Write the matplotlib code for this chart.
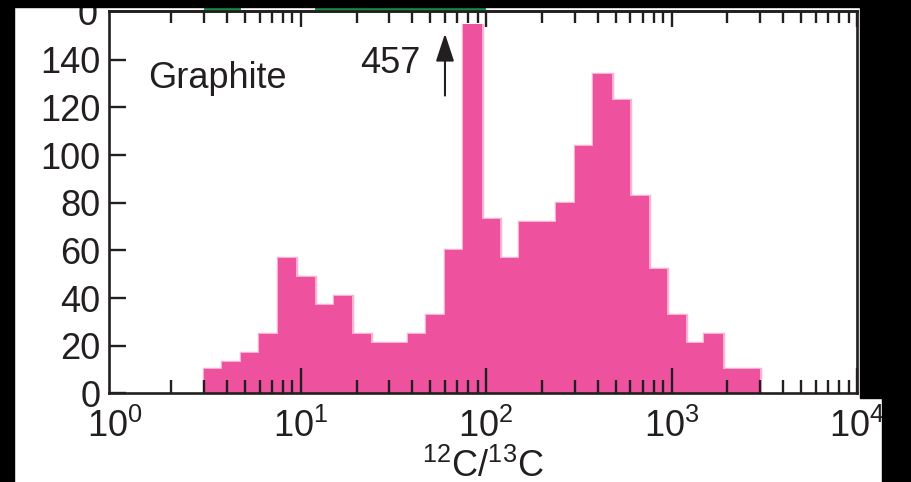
import numpy as np
import matplotlib
matplotlib.use('Agg')
import matplotlib.pyplot as plt
from matplotlib.patches import Rectangle
from matplotlib.transforms import Bbox, TransformedBbox

plt.rcParams['font.family'] = 'Liberation Sans'
plt.rcParams['mathtext.fontset'] = 'custom'
plt.rcParams['mathtext.rm'] = 'Liberation Sans'
plt.rcParams['mathtext.it'] = 'Liberation Sans:italic'
plt.rcParams['mathtext.bf'] = 'Liberation Sans:bold'

ink = '#231f20'
pink = '#ee529e'

# 12C/13C of graphite grains, 10 bins per decade starting at 3
bin_edges = 3 * np.logspace(0, 3, 31)
counts = [10, 13, 17, 25, 57, 49, 37, 41, 25, 21,
          21, 25, 33, 60, 457, 73, 57, 72, 72, 80,
          104, 134, 123, 83, 52, 33, 21, 25, 10, 10]
break_level = 155   # the tall bin is cut here, its count goes next to the arrow
spike_x = 60
# bars of the panel above that show along the top edge
upper_spans = [(3, 4.75), (11.9, 100)]

fig = plt.figure(figsize=(9.12, 4.82), dpi=100)
ax = fig.add_axes([0.119, 0.184, 0.8207, 0.7932])
ax.set_xscale('log')
ax.set_xlim(0.92, 1e4)
ax.set_ylim(0, 160.5)

# histogram under the tick marks, clipped at the break level
halo = ax.stairs(counts, bin_edges, fill=False, color='#f6b4d2', lw=2.5, zorder=1.0)
bars = ax.stairs(counts, bin_edges, fill=True, color=pink, zorder=1.1)
cut = TransformedBbox(Bbox.from_extents(0, 0, 1, break_level), ax.get_yaxis_transform())
for p in (halo, bars):
    p.set_clip_box(cut)

ax.set_xticks([1, 10, 100, 1000, 10000])
ax.set_yticks(range(0, 141, 20))

for s in ax.spines.values():
    s.set_linewidth(1.9)
    s.set_color(ink)
ax.tick_params(axis='x', which='major', direction='in', length=18, width=1.7,
               color=ink, labelcolor=ink, labelsize=26, pad=11)
ax.tick_params(axis='x', which='minor', direction='in', length=9.4, width=1.7, color=ink)
ax.tick_params(axis='y', direction='in', length=12, width=1.7,
               color=ink, labelcolor=ink, labelsize=26, pad=6)

# top ticks are shorter than the bottom ones
sec = ax.secondary_xaxis('top')
sec.patch.set_visible(False)
sec.set_xticks([1, 10, 100, 1000, 10000])
sec.set_xticklabels([])
sec.tick_params(which='major', direction='in', length=11.5, width=1.7, color=ink)
sec.tick_params(which='minor', direction='in', length=8.5, width=1.7, color=ink)
sec.spines['top'].set_linewidth(1.9)
sec.spines['top'].set_color(ink)

# no tick mark at 10^0, only its label
for t in (ax.xaxis.get_major_ticks()[0], sec.xaxis.get_major_ticks()[0]):
    t.tick1line.set_visible(False)
    t.tick2line.set_visible(False)

ax.set_xlabel(r'$^{12}$C/$^{13}$C', fontsize=26, color=ink, labelpad=3)

ax.text(1.5, 128, 'Graphite', fontsize=26, color=ink, ha='left', va='baseline')
ax.text(44, 134.5, str(counts[14]), fontsize=26, color=ink, ha='right', va='baseline')
ax.annotate('', xy=(spike_x, 151), xytext=(spike_x, 125),
            arrowprops=dict(arrowstyle='-|>,head_length=0.85,head_width=0.28',
                            mutation_scale=20, color=ink, lw=1.5, shrinkA=0, shrinkB=0))

for lo, hi in upper_spans:
    ax.axvspan(lo, hi, ymin=1.0, ymax=1.011, color='#178c4a', clip_on=False, zorder=2.4, lw=0)

# zero label of the panel above
fig.text(98 / 912, 457 / 482, '0', fontsize=26, color=ink, ha='right', va='baseline')

# black border around the scan
border = [(0, 1 - 7 / 482, 1, 7 / 482),
          (0, 0, 14 / 912, 1),
          (860 / 912, 84 / 482, 52 / 912, 1),
          (882 / 912, 0, 30 / 912, 1)]
for x0, y0, w, h in border:
    fig.patches.append(Rectangle((x0, y0), w, h, transform=fig.transFigure,
                                 color='black', zorder=10))

fig.savefig('out.png', dpi=100)
